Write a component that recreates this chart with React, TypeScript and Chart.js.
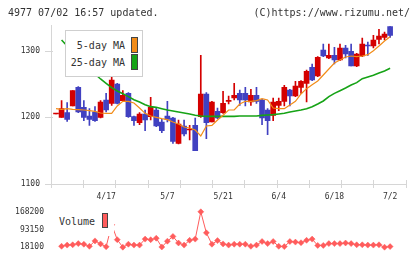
import React, { useEffect, useRef } from "react";
import { Chart, registerables } from "chart.js";

Chart.register(...registerables);

// Trading days shown on the chart (2024)
const dates = [
  "4/4", "4/5", "4/8", "4/9", "4/10", "4/11", "4/12", "4/15", "4/16", "4/17",
  "4/18", "4/19", "4/22", "4/23", "4/24", "4/25", "4/26", "4/30", "5/1", "5/2",
  "5/7", "5/8", "5/9", "5/10", "5/13", "5/14", "5/15", "5/16", "5/17", "5/20",
  "5/21", "5/22", "5/23", "5/24", "5/27", "5/28", "5/29", "5/30", "5/31", "6/3",
  "6/4", "6/5", "6/6", "6/7", "6/10", "6/11", "6/12", "6/13", "6/14", "6/17",
  "6/18", "6/19", "6/20", "6/21", "6/24", "6/25", "6/26", "6/27", "6/28", "7/1",
  "7/2",
];
const tickDates = ["4/17", "5/7", "5/21", "6/4", "6/18", "7/2"];

const opens = [
  1205, 1200, 1207, 1217, 1245, 1215, 1202, 1208, 1200, 1226,
  1221, 1250, 1225, 1236, 1201, 1192, 1205, 1201, 1211, 1193,
  1202, 1199, 1161, 1187, 1181, 1188, 1201, 1235, 1193, 1209,
  1207, 1224, 1229, 1236, 1236, 1223, 1233, 1226, 1211, 1203,
  1218, 1224, 1241, 1232, 1245, 1251, 1275, 1262, 1301, 1289,
  1293, 1286, 1304, 1299, 1277, 1292, 1308, 1307, 1317, 1320,
  1336,
];
const highs = [
  1206, 1225, 1222, 1240, 1246, 1225, 1213, 1216, 1225, 1236,
  1266, 1251, 1240, 1237, 1202, 1207, 1211, 1230, 1215, 1197,
  1224, 1200, 1196, 1196, 1188, 1199, 1293, 1237, 1224, 1214,
  1239, 1232, 1251, 1241, 1245, 1242, 1245, 1227, 1213, 1229,
  1229, 1248, 1242, 1254, 1255, 1271, 1280, 1291, 1310, 1310,
  1305, 1310, 1308, 1310, 1296, 1319, 1313, 1323, 1332, 1328,
  1336,
];
const lows = [
  1205, 1200, 1194, 1217, 1207, 1195, 1188, 1194, 1199, 1208,
  1218, 1220, 1224, 1200, 1188, 1189, 1180, 1196, 1186, 1177,
  1193, 1161, 1160, 1172, 1166, 1150, 1200, 1168, 1193, 1198,
  1206, 1220, 1226, 1218, 1217, 1218, 1221, 1189, 1174, 1195,
  1210, 1217, 1217, 1231, 1236, 1223, 1255, 1261, 1291, 1288,
  1280, 1285, 1289, 1277, 1276, 1291, 1293, 1304, 1310, 1316,
  1320,
];
const closes = [
  1206, 1213, 1197, 1240, 1208, 1200, 1197, 1195, 1223, 1211,
  1256, 1221, 1233, 1201, 1195, 1205, 1196, 1215, 1187, 1180,
  1197, 1164, 1190, 1175, 1182, 1150, 1235, 1192, 1223, 1199,
  1221, 1225, 1233, 1226, 1226, 1233, 1224, 1199, 1195, 1223,
  1224, 1245, 1232, 1247, 1254, 1269, 1256, 1290, 1292, 1293,
  1286, 1304, 1295, 1277, 1295, 1310, 1307, 1316, 1322, 1325,
  1323,
];

const ma5 = [
  1213, 1212, 1213, 1212, 1211.5, 1211, 1210, 1209, 1206.5, 1206,
  1206, 1217, 1224, 1224, 1221.5, 1214, 1206, 1202, 1200, 1198,
  1196.5, 1193, 1190, 1185.5, 1184, 1181, 1172, 1187, 1188, 1196,
  1203, 1211, 1211, 1220, 1224, 1224, 1225, 1228, 1226, 1214,
  1213, 1213, 1218.5, 1224, 1235, 1243, 1249, 1254.5, 1263.5, 1272.5,
  1281.5, 1286, 1290.5, 1292, 1291, 1292, 1294, 1300, 1307, 1314.5,
  1321,
];
const ma25 = [
  null, 1316, 1307, 1298, 1290, 1281.5, 1273, 1265, 1257.5, 1251,
  1244.5, 1239.5, 1235.5, 1231, 1226.5, 1223, 1219, 1216, 1215, 1213,
  1211, 1209.5, 1208, 1206.5, 1205, 1203, 1202, 1201.5, 1201.5, 1201.5,
  1201.5, 1201.5, 1201.5, 1202, 1202, 1202, 1202, 1203, 1203.5, 1204,
  1205, 1206, 1208, 1209.5, 1211, 1213, 1216, 1220, 1224.5, 1231,
  1236, 1240, 1244, 1248.5, 1252, 1258, 1260.5, 1263, 1266.5, 1269.5,
  1273.5,
];
const volumes = [
  null, 22000, 27000, 28300, 33300, 30800, 21900, 44800, 32100, 20000,
  113000, 50000, 18100, 30800, 27000, 27000, 52400, 49800, 56200, 19000,
  43500, 63800, 35900, 27000, 47300, 52400, 168200, 79100, 30800, 46000,
  32100, 27000, 30800, 30800, 30800, 21900, 27000, 42200, 33300, 42200,
  21900, 20600, 42200, 39700, 37100, 47300, 52400, 25700, 25700, 33300,
  33300, 33300, 35900, 33300, 28300, 28300, 27000, 27000, 28300, 18100,
  20600,
];

const priceTicks = [1100, 1200, 1300];
const volumeTicks = [18100, 93150, 168200];

const UP = "#d40000";
const DOWN = "#4141c1";
const MA5_COLOR = "#f28c18";
const MA25_COLOR = "#16a316";
const VOL_COLOR = "#ff5c5c";
const AXIS = "#d6d6d6";
const TEXT = "#333333";
const MONO = "'DejaVu Sans Mono', monospace";

const X_MIN = -0.9;
const X_MAX = 62.8;
const PRICE_MIN = 1100;
const PRICE_MAX = 1338.5;

const candleColors = opens.map((o, i) => (closes[i] >= o ? UP : DOWN));

const points = (arr: (number | null)[]) =>
  arr
    .map((v, i) => ({ x: i, y: v }))
    .filter((p) => p.y !== null) as { x: number; y: number }[];

// Short tick marks crossing the axis lines of the price panel
const axisMarks = {
  id: "axisMarks",
  beforeDatasetsDraw(chart: any) {
    const { ctx, chartArea } = chart;
    const { left, right, bottom } = chartArea;
    const yScale = chart.scales.y;
    ctx.save();
    ctx.strokeStyle = AXIS;
    ctx.lineWidth = 1;
    ctx.beginPath();
    for (let k = 0; k <= 11; k++) {
      const px = Math.round(left + ((right - left) * k) / 11) + 0.5;
      ctx.moveTo(px, bottom - 4);
      ctx.lineTo(px, bottom + 4);
    }
    for (const v of priceTicks) {
      const py = Math.round(yScale.getPixelForValue(v)) + 0.5;
      ctx.moveTo(left - 6, py);
      ctx.lineTo(left + 2, py);
    }
    ctx.stroke();
    ctx.restore();
  },
};

const tickFont = { family: MONO, size: 8 };
const plainNumber = (v: any) => String(v);

export default function App() {
  const priceRef = useRef<HTMLCanvasElement>(null);
  const volRef = useRef<HTMLCanvasElement>(null);

  useEffect(() => {
    const priceChart = new Chart(priceRef.current as HTMLCanvasElement, {
      type: "bar",
      data: {
        datasets: [
          {
            type: "line",
            label: "5-day MA",
            data: points(ma5),
            borderColor: MA5_COLOR,
            borderWidth: 1.2,
            pointRadius: 0,
            order: 0,
          } as any,
          {
            type: "line",
            label: "25-day MA",
            data: points(ma25),
            borderColor: MA25_COLOR,
            borderWidth: 1.6,
            pointRadius: 0,
            order: 0,
          } as any,
          {
            type: "bar",
            label: "body",
            data: opens.map((o, i) => ({ x: i, y: [o, closes[i]] })),
            backgroundColor: candleColors,
            barThickness: 5,
            minBarLength: 1,
            grouped: false,
            borderWidth: 0,
            order: 1,
          } as any,
          {
            type: "bar",
            label: "wick",
            data: lows.map((l, i) => ({ x: i, y: [l, highs[i]] })),
            backgroundColor: candleColors,
            barThickness: 1,
            grouped: false,
            borderWidth: 0,
            order: 2,
          } as any,
        ],
      },
      options: {
        responsive: false,
        animation: false,
        devicePixelRatio: 1,
        layout: { padding: { left: 0, right: 14.3, top: 25, bottom: 0 } },
        plugins: { legend: { display: false }, tooltip: { enabled: false } },
        scales: {
          x: {
            type: "linear",
            min: X_MIN,
            max: X_MAX,
            offset: false,
            afterBuildTicks: (s: any) => {
              s.ticks = tickDates.map((d) => ({ value: dates.indexOf(d) }));
            },
            afterFit: (s: any) => {
              s.height = 21;
            },
            ticks: {
              autoSkip: false,
              maxRotation: 0,
              minRotation: 0,
              padding: 8,
              font: tickFont,
              color: TEXT,
              callback: (v: any) => dates[v as number] ?? "",
            },
            grid: { display: false, drawTicks: false },
            border: { display: true, color: AXIS },
          },
          y: {
            type: "linear",
            min: PRICE_MIN,
            max: PRICE_MAX,
            afterBuildTicks: (s: any) => {
              s.ticks = priceTicks.map((v) => ({ value: v }));
            },
            afterFit: (s: any) => {
              s.width = 51;
            },
            ticks: { padding: 11, font: tickFont, color: TEXT, callback: plainNumber },
            grid: { display: false, drawTicks: false },
            border: { display: true, color: AXIS },
          },
        },
      } as any,
      plugins: [axisMarks],
    });

    const volChart = new Chart(volRef.current as HTMLCanvasElement, {
      type: "line",
      data: {
        datasets: [
          {
            label: "Volume",
            data: points(volumes),
            borderColor: VOL_COLOR,
            borderWidth: 1,
            pointStyle: "rectRot",
            pointRadius: 3,
            pointBackgroundColor: VOL_COLOR,
            pointBorderColor: VOL_COLOR,
            pointBorderWidth: 0.5,
            clip: false,
          } as any,
        ],
      },
      options: {
        responsive: false,
        animation: false,
        devicePixelRatio: 1,
        layout: { padding: { left: 0, right: 14.3, top: 9, bottom: 10.7 } },
        plugins: { legend: { display: false }, tooltip: { enabled: false } },
        scales: {
          x: { type: "linear", min: X_MIN, max: X_MAX, display: false },
          y: {
            type: "linear",
            min: volumeTicks[0],
            max: volumeTicks[2],
            afterBuildTicks: (s: any) => {
              s.ticks = volumeTicks.map((v) => ({ value: v }));
            },
            afterFit: (s: any) => {
              s.width = 51;
            },
            ticks: { padding: 7, font: tickFont, color: TEXT, callback: plainNumber },
            grid: { display: false, drawTicks: false },
            border: { display: false },
          },
        },
      } as any,
    });

    return () => {
      priceChart.destroy();
      volChart.destroy();
    };
  }, []);

  const text: React.CSSProperties = {
    position: "absolute",
    fontFamily: MONO,
    fontSize: 10,
    lineHeight: "12px",
    color: TEXT,
    whiteSpace: "pre",
  };

  return (
    <div
      style={{
        position: "fixed",
        left: 0,
        top: 0,
        width: 420,
        height: 259,
        background: "#ffffff",
        overflow: "hidden",
      }}
    >
      <canvas
        ref={priceRef}
        width={420}
        height={205}
        style={{ position: "absolute", left: 0, top: 0 }}
      />
      <canvas
        ref={volRef}
        width={420}
        height={59}
        style={{ position: "absolute", left: 0, top: 200 }}
      />

      <div style={{ ...text, left: 8, top: 7 }}>4977 07/02 16:57 updated.</div>
      <div style={{ ...text, right: 10, top: 7 }}>(C)https://www.rizumu.net/</div>

      {/* moving-average legend */}
      <div
        style={{
          position: "absolute",
          left: 65,
          top: 30,
          width: 78,
          height: 47,
          boxSizing: "border-box",
          border: "1px solid #cfcfcf",
          background: "#ffffff",
        }}
      />
      <div style={{ ...text, left: 65, width: 60, top: 40, textAlign: "right" }}>5-day MA</div>
      <div style={{ ...text, left: 65, width: 60, top: 57, textAlign: "right" }}>25-day MA</div>
      <div
        style={{
          position: "absolute",
          left: 131,
          top: 37,
          width: 7,
          height: 16,
          boxSizing: "border-box",
          border: "1px solid #444",
          background: MA5_COLOR,
        }}
      />
      <div
        style={{
          position: "absolute",
          left: 131,
          top: 54,
          width: 7,
          height: 16,
          boxSizing: "border-box",
          border: "1px solid #444",
          background: MA25_COLOR,
        }}
      />

      {/* volume legend */}
      <div
        style={{
          position: "absolute",
          left: 55,
          top: 205,
          width: 58.5,
          height: 31,
          background: "#ffffff",
        }}
      />
      <div style={{ ...text, left: 59, top: 216 }}>Volume</div>
      <div
        style={{
          position: "absolute",
          left: 102,
          top: 213,
          width: 6,
          height: 15,
          boxSizing: "border-box",
          border: "1px solid #444",
          background: VOL_COLOR,
        }}
      />
    </div>
  );
}
